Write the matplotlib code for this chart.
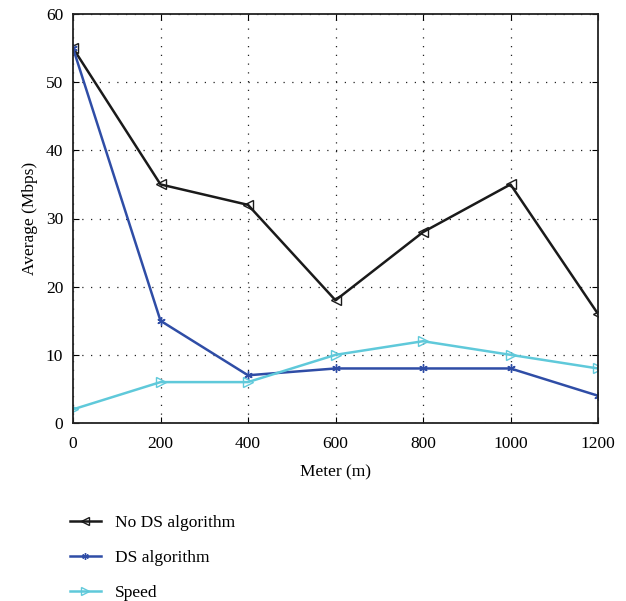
import numpy as np
import matplotlib
matplotlib.use('Agg')
import matplotlib.pyplot as plt

plt.rcParams['font.family'] = ['Liberation Serif', 'DejaVu Serif']

meters = [0, 200, 400, 600, 800, 1000, 1200]
no_ds = [55, 35, 32, 18, 28, 35, 16]
ds = [55, 15, 7, 8, 8, 8, 4]
speed = [2, 6, 6, 10, 12, 10, 8]

fig = plt.figure(figsize=(6.26, 6.01), dpi=100)
ax = fig.add_axes([73/626, 1-423/601, 525/626, 409/601])

l1, = ax.plot(meters, no_ds, color='#1a1a1a', lw=1.8, marker='<', ms=7,
              mfc='none', mec='#1a1a1a', mew=1.0, label='No DS algorithm')
l2, = ax.plot(meters, ds, color='#2f4da6', lw=1.8, marker=(6, 2, 0), ms=6,
              mec='#2f4da6', mew=1.0, label='DS algorithm')
l3, = ax.plot(meters, speed, color='#5fc9da', lw=1.8, marker='>', ms=7,
              mfc='none', mec='#5fc9da', mew=1.0, label='Speed')

ax.set_xlim(0, 1200)
ax.set_ylim(0, 60)
ax.set_xticks(meters)
ax.set_yticks([0, 10, 20, 30, 40, 50, 60])
ax.grid(True, color='#222222', linestyle=(0, (1, 6)), lw=0.9)
ax.tick_params(direction='in', top=True, right=True, labelsize=12.5, length=4)
ax.tick_params(axis='x', pad=9)
ax.tick_params(axis='y', pad=7)
for s in ax.spines.values():
    s.set_linewidth(1.3)
    s.set_color('#222222')
ax.set_xlabel('Meter (m)', fontsize=12.5, labelpad=9)
ax.set_ylabel('Average (Mbps)', fontsize=12.5, labelpad=6)

fig.legend(handles=[l1, l2, l3], loc='upper left', bbox_to_anchor=(54/626, 1-499/601),
           frameon=False, fontsize=12.5, labelspacing=1.1, handlelength=1.8,
           handletextpad=0.8, markerscale=0.8)

fig.savefig('out.png', dpi=100)
